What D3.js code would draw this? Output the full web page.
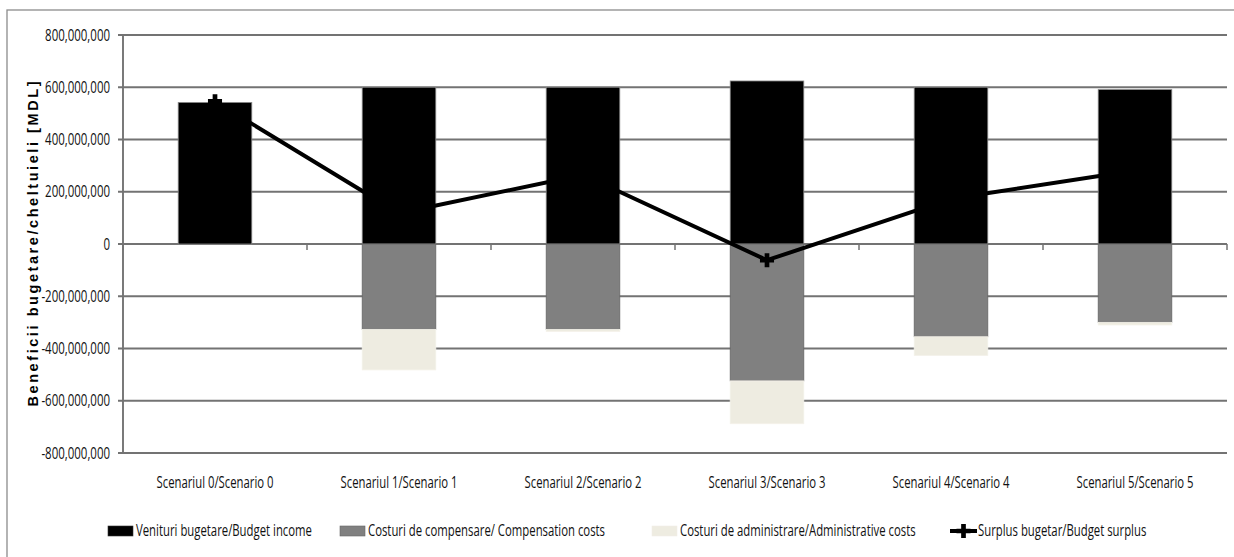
<!DOCTYPE html>
<html>
<head>
<meta charset="utf-8">
<script src="https://cdn.jsdelivr.net/npm/d3@7"></script>
<style>
  html, body { margin: 0; padding: 0; background: #fff; }
  svg { display: block; }
  .narrow { font-family: "Open Sans", "Noto Sans", sans-serif; fill: #111; }
</style>
</head>
<body>
<svg id="chart" width="1234" height="557"></svg>
<script>
// ---- data ----
const categories = ["Scenariul 0/Scenario 0", "Scenariul 1/Scenario 1", "Scenariul 2/Scenario 2",
                    "Scenariul 3/Scenario 3", "Scenariul 4/Scenario 4", "Scenariul 5/Scenario 5"];
const budgetIncome      = [542e6, 600e6, 600e6, 624e6, 600e6, 591e6];
const compensationCosts = [0, -327e6, -327e6, -524e6, -355e6, -300e6];
const adminCosts        = [0, -155e6, -8e6, -164e6, -72e6, -10e6];
const budgetSurplus     = [546e6, 118e6, 265e6, -62e6, 173e6, 281e6];
const yTicks = [-800e6, -600e6, -400e6, -200e6, 0, 200e6, 400e6, 600e6, 800e6];
const seriesNames = ["Venituri bugetare/Budget income", "Costuri de compensare/ Compensation costs",
                     "Costuri de administrare/Administrative costs", "Surplus bugetar/Budget surplus"];
const yTitle = "Beneficii bugetare/cheltuieli [MDL]";

// ---- layout ----
const plot = { left: 123, right: 1227, top: 35, bottom: 453 };
const svg = d3.select("#chart");

// horizontal squeeze helper (reference text is a condensed face)
function measure(str, size) {
  const t = svg.append("text").attr("class", "narrow").style("font-size", size + "px").text(str);
  const w = t.node().getComputedTextLength();
  t.remove();
  return w;
}
function squeeze(sel, f) {
  sel.each(function () {
    const el = d3.select(this);
    const x0 = +(el.attr("x") || 0);
    el.attr("x", x0 / f).attr("transform", `scale(${f},1)`);
  });
}
const tickSize = 16, catSize = 15.5, legSize = 15.5;
const fTick = 65 / measure("800,000,000", tickSize);
const fCat = 117 / measure("Scenariul 0/Scenario 0", catSize);
const fLeg = 176 / measure("Venituri bugetare/Budget income", legSize);
const fmt = d3.format(",");

// outer chart border
svg.append("rect").attr("x", 7).attr("y", 10).attr("width", 1250).attr("height", 600)
  .attr("fill", "#fff").attr("stroke", "#8c8c8c").attr("stroke-width", 1.3);

const x = d3.scaleBand().domain(categories).range([plot.left, plot.right])
  .paddingInner(0.6).paddingOuter(0.3);
const y = d3.scaleLinear().domain([-800e6, 800e6]).range([plot.bottom, plot.top]);
const step = x.step();
const cx = d => x(d) + x.bandwidth() / 2;

// gridlines
svg.append("g").selectAll("line").data(yTicks).join("line")
  .attr("x1", plot.left - 5).attr("x2", plot.right)
  .attr("y1", d => y(d)).attr("y2", d => y(d))
  .attr("stroke", "#737373").attr("stroke-width", 1.9);

// y axis line
svg.append("line").attr("x1", plot.left).attr("x2", plot.left)
  .attr("y1", y(800e6)).attr("y2", y(-800e6))
  .attr("stroke", "#737373").attr("stroke-width", 1.9);

// y tick labels via axis
const yAxis = svg.append("g").attr("transform", `translate(${plot.left},0)`)
  .call(d3.axisLeft(y).tickValues(yTicks).tickFormat(d => fmt(d).replace("\u2212", "-"))
    .tickSize(5).tickPadding(8));
yAxis.select(".domain").remove();
yAxis.selectAll(".tick line").remove();
yAxis.selectAll("text").attr("class", "narrow").style("font-size", tickSize + "px")
  .attr("fill", "#111");
squeeze(yAxis.selectAll("text"), fTick);

// category ticks at zero line
const catBounds = d3.range(categories.length + 1).map(i => plot.left + i * step);
svg.append("g").selectAll("line").data(catBounds).join("line")
  .attr("x1", d => d).attr("x2", d => d)
  .attr("y1", y(0)).attr("y2", y(0) + 6)
  .attr("stroke", "#737373").attr("stroke-width", 1.5);

// category labels
const xAxis = svg.append("g").attr("transform", `translate(0,${plot.bottom})`)
  .call(d3.axisBottom(x).tickSize(0).tickPadding(24));
xAxis.select(".domain").remove();
xAxis.selectAll("text").attr("class", "narrow").style("font-size", catSize + "px").attr("fill", "#111");
squeeze(xAxis.selectAll("text"), fCat);

// bars
const bw = x.bandwidth();
const g = svg.append("g");
g.selectAll("rect.inc").data(categories).join("rect").attr("class", "inc")
  .attr("x", d => x(d)).attr("width", bw)
  .attr("y", (d, i) => y(budgetIncome[i])).attr("height", (d, i) => y(0) - y(budgetIncome[i]))
  .attr("fill", "#000").attr("stroke", "#8a8a8a").attr("stroke-width", 0.8);
g.selectAll("rect.comp").data(categories).join("rect").attr("class", "comp")
  .attr("x", d => x(d)).attr("width", bw)
  .attr("y", y(0)).attr("height", (d, i) => y(compensationCosts[i]) - y(0))
  .attr("fill", "#808080").attr("stroke", (d, i) => compensationCosts[i] ? "#666" : "none").attr("stroke-width", 0.8);
g.selectAll("rect.adm").data(categories).join("rect").attr("class", "adm")
  .attr("x", d => x(d)).attr("width", bw)
  .attr("y", (d, i) => y(compensationCosts[i]))
  .attr("height", (d, i) => y(compensationCosts[i] + adminCosts[i]) - y(compensationCosts[i]))
  .attr("fill", "#EEECE1").attr("stroke", (d, i) => adminCosts[i] ? "#f4f2ea" : "none").attr("stroke-width", 0.8);

// surplus line
const line = d3.line().x((d, i) => cx(categories[i])).y(d => y(d));
svg.append("path").datum(budgetSurplus).attr("d", line)
  .attr("fill", "none").attr("stroke", "#000").attr("stroke-width", 4).attr("stroke-linejoin", "round");
const cross = d3.symbol().type(d3.symbolCross).size(110);
svg.append("g").selectAll("path").data(budgetSurplus).join("path")
  .attr("d", cross)
  .attr("transform", (d, i) => `translate(${cx(categories[i])},${y(d)})`)
  .attr("fill", "#000");

// y title
svg.append("text")
  .attr("transform", `translate(38,${(plot.top + plot.bottom) / 2}) rotate(-90)`)
  .attr("text-anchor", "middle")
  .attr("textLength", 325).attr("lengthAdjust", "spacing")
  .style("font-family", "'Liberation Sans', Arial, sans-serif")
  .style("font-weight", "bold").style("font-size", "14.5px").attr("fill", "#000")
  .text(yTitle);

// legend
const legY = 531;
const legX = [108, 340, 652, 950];
const leg = svg.append("g");
const swFill = ["#000", "#808080", "#EEECE1"];
const swStroke = ["#333", "#666", "#f0eee6"];
seriesNames.forEach((name, i) => {
  const gx = legX[i];
  if (i < 3) {
    leg.append("rect").attr("x", gx).attr("y", legY - 5).attr("width", 25).attr("height", 10)
      .attr("fill", swFill[i]).attr("stroke", swStroke[i]).attr("stroke-width", 0.6);
  } else {
    leg.append("line").attr("x1", gx).attr("x2", gx + 27).attr("y1", legY).attr("y2", legY)
      .attr("stroke", "#000").attr("stroke-width", 4);
    leg.append("path").attr("d", cross).attr("transform", `translate(${gx + 13.5},${legY})`).attr("fill", "#000");
  }
  const t = leg.append("text").attr("class", "narrow").attr("x", gx + 28).attr("y", legY).attr("dy", "0.35em")
    .style("font-size", legSize + "px").text(name);
  squeeze(t, fLeg);
});
</script>
</body>
</html>
